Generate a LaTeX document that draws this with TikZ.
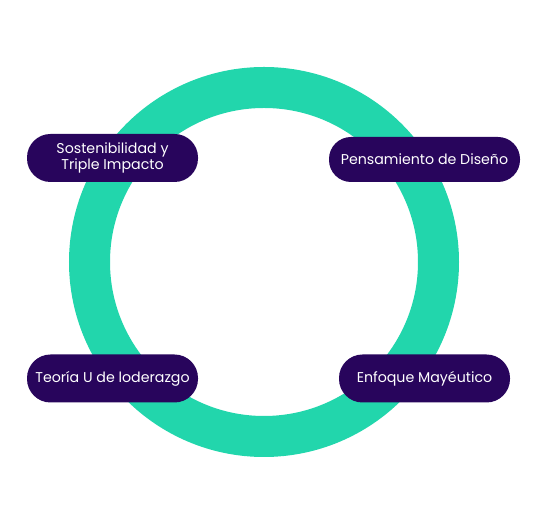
\documentclass[tikz,border=0pt]{standalone}
\usepackage{fontspec}
\setmainfont{Poppins}
\definecolor{ringc}{RGB}{34,214,172}
\definecolor{boxc}{RGB}{40,5,92}
\tikzset{
  pill/.style={fill=boxc, text=white, rounded corners=23.5pt, minimum height=48pt, inner sep=0pt, align=center, font=\fontsize{14.2}{16.5}\selectfont},
}
\begin{document}
\begin{tikzpicture}[x=1pt,y=1pt]
\useasboundingbox (0,0) rectangle (555,524);
\coordinate (c) at (264,262);
\draw[ringc, line width=41pt] (c) circle[radius=174.5];
\node[pill, minimum width=171pt] (sos) at (112.5,366) {Sostenibilidad y\\Triple Impacto};
\node[pill, minimum width=191pt, minimum height=45pt, rounded corners=22pt] (pen) at (424.5,364.5) {Pensamiento de Diseño};
\node[pill, minimum width=171pt] (teo) at (112.5,145.5) {Teoría U de loderazgo};
\node[pill, minimum width=171pt] (enf) at (424.5,145.5) {Enfoque Mayéutico};
\end{tikzpicture}
\end{document}
